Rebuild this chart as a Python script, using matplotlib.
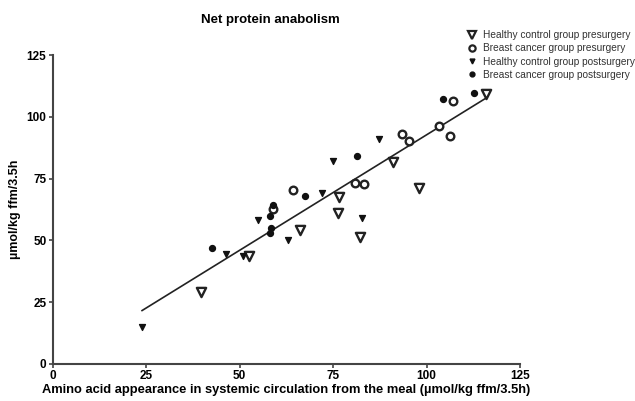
import numpy as np
import matplotlib
matplotlib.use('Agg')
import matplotlib.pyplot as plt
from matplotlib.lines import Line2D

plt.rcParams['font.family'] = ['Liberation Sans', 'DejaVu Sans']

# values
healthy_pre_x = [39.6, 52.6, 66.1, 76.5, 76.3, 82.3, 91.1, 98.1, 115.9]
healthy_pre_y = [29.0, 43.7, 54.1, 67.7, 61.2, 51.5, 81.6, 71.3, 109.1]

cancer_pre_x = [58.9, 64.4, 80.8, 83.3, 93.4, 95.2, 103.2, 106.2, 107.1]
cancer_pre_y = [62.8, 70.4, 73.3, 72.8, 93.2, 90.3, 96.3, 92.2, 106.5]

healthy_post_x = [23.9, 46.4, 51.0, 55.0, 62.9, 72.0, 74.9, 82.8, 87.2]
healthy_post_y = [14.8, 44.4, 43.7, 58.3, 50.2, 69.0, 82.3, 59.2, 91.0]

cancer_post_x = [42.6, 58.0, 58.4, 58.0, 58.9, 67.6, 81.5, 104.4, 112.7]
cancer_post_y = [47.1, 60.0, 55.1, 53.1, 64.2, 67.8, 84.3, 107.1, 109.8]

fit_slope = 0.934
fit_intercept = -0.7

ticks = [0, 25, 50, 75, 100, 125]
legend_labels = ['Healthy control group presurgery',
                 'Breast cancer group presurgery',
                 'Healthy control group postsurgery',
                 'Breast cancer group postsurgery']

fig = plt.figure(figsize=(6.35, 4.01), dpi=100)
ax = fig.add_axes([52.7 / 635, 37 / 401, (520 - 52.7) / 635, (364 - 55) / 401])

# regression line across the whole x range of the data
all_x = healthy_pre_x + cancer_pre_x + healthy_post_x + cancer_post_x
fx = np.array([min(all_x), max(all_x)])
ax.plot(fx, fit_slope * fx + fit_intercept, color='#222222', lw=1.2, zorder=1)

ax.scatter(healthy_pre_x, healthy_pre_y, marker='v', s=44, facecolors='white',
           edgecolors='#222222', linewidths=1.7, zorder=3)
ax.scatter(cancer_pre_x, cancer_pre_y, marker='o', s=30, facecolors='white',
           edgecolors='#222222', linewidths=1.7, zorder=3)
ax.scatter(healthy_post_x, healthy_post_y, marker='v', s=18, color='#111111', zorder=3)
ax.scatter(cancer_post_x, cancer_post_y, marker='o', s=18, color='#111111', zorder=3)

ax.set_xlim(0, 125)
ax.set_ylim(0, 125)
ax.set_xticks(ticks)
ax.set_yticks(ticks)
ax.set_xticklabels([str(t) for t in ticks], fontsize=8.5, fontweight='bold')
ax.set_yticklabels([str(t) for t in ticks], fontsize=8.5, fontweight='bold')
ax.tick_params(direction='out', length=3, width=1.2, color='#444444', pad=1.5)
for side in ['top', 'right']:
    ax.spines[side].set_visible(False)
for side in ['left', 'bottom']:
    ax.spines[side].set_linewidth(1.5)
    ax.spines[side].set_color('#444444')

ax.set_xlabel('Amino acid appearance in systemic circulation from the meal (µmol/kg ffm/3.5h)',
              fontsize=9.3, fontweight='bold', labelpad=1)
ax.set_ylabel('µmol/kg ffm/3.5h', fontsize=9, fontweight='bold', labelpad=4)

fig.text(270 / 635, 1 - 20 / 401, 'Net protein anabolism', fontsize=9.5,
         fontweight='bold', ha='center', va='center')

handles = [
    Line2D([], [], ls='none', marker='v', ms=5.5, mfc='white', mec='#222222', mew=1.6),
    Line2D([], [], ls='none', marker='o', ms=4.5, mfc='white', mec='#222222', mew=1.6),
    Line2D([], [], ls='none', marker='v', ms=3.5, color='#111111'),
    Line2D([], [], ls='none', marker='o', ms=3.5, color='#111111'),
]
fig.legend(handles, legend_labels, loc='upper left', bbox_to_anchor=(462 / 635, 1 - 25 / 401),
           frameon=False, fontsize=7.3, handlelength=1.0, handletextpad=0.6,
           labelspacing=0.32, borderpad=0, labelcolor='#333333')

fig.savefig('out.png', dpi=100)
